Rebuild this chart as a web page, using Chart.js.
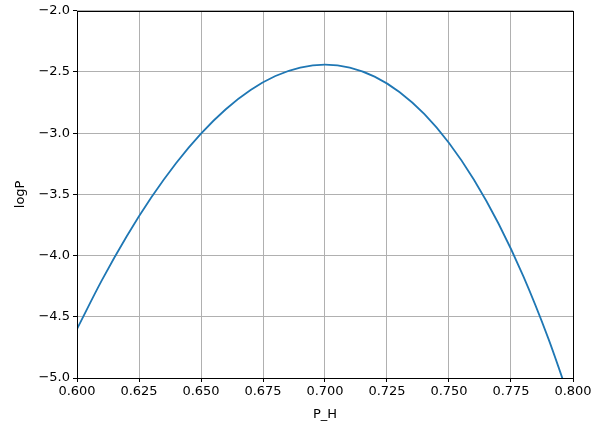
<!DOCTYPE html>
<html>
<head>
<meta charset="utf-8">
<script src="https://cdn.jsdelivr.net/npm/chart.js@4.4.0/dist/chart.umd.min.js"></script>
<style>
  html, body { margin: 0; padding: 0; background: #fff; }
  #wrap { width: 594px; height: 422px; }
</style>
</head>
<body>
<div id="wrap"><canvas id="c" width="594" height="422"></canvas></div>
<script>
// valores
const pH = [0.60, 0.61, 0.62, 0.63, 0.64, 0.65, 0.66, 0.67, 0.68, 0.69, 0.70,
            0.71, 0.72, 0.73, 0.74, 0.75, 0.76, 0.77, 0.78, 0.79, 0.795, 0.80];
const logP = [-4.600, -4.203, -3.844, -3.524, -3.243, -3.003, -2.804, -2.647, -2.533, -2.464, -2.440,
              -2.464, -2.538, -2.663, -2.843, -3.080, -3.378, -3.740, -4.170, -4.674, -4.960, -5.257];
const xTicks = [0.600, 0.625, 0.650, 0.675, 0.700, 0.725, 0.750, 0.775, 0.800];
const yTicks = [-2.0, -2.5, -3.0, -3.5, -4.0, -4.5, -5.0];

const FONT = { family: "'DejaVu Sans', sans-serif", size: 13 };

// moldura completa em volta da área do gráfico
const frame = {
  id: 'frame',
  afterDraw(chart) {
    const a = chart.chartArea, ctx = chart.ctx;
    ctx.save();
    ctx.strokeStyle = '#000';
    ctx.lineWidth = 1;
    ctx.strokeRect(Math.round(a.left) + 0.5, Math.round(a.top) + 0.5,
                   Math.round(a.right - a.left), Math.round(a.bottom - a.top));
    ctx.restore();
  }
};

new Chart(document.getElementById('c'), {
  type: 'line',
  data: {
    datasets: [{
      data: pH.map((x, i) => ({ x: x, y: logP[i] })),
      borderColor: '#1f77b4',
      borderWidth: 1.8,
      pointRadius: 0,
      cubicInterpolationMode: 'monotone',
      fill: false
    }]
  },
  options: {
    responsive: false,
    animation: false,
    layout: { padding: { left: 13, right: 21, top: 7, bottom: 0 } },
    plugins: { legend: { display: false }, tooltip: { enabled: false } },
    scales: {
      x: {
        type: 'linear',
        min: 0.6, max: 0.8,
        afterBuildTicks: s => { s.ticks = xTicks.map(v => ({ value: v })); },
        afterFit: s => { s.height = 44; },
        ticks: {
          color: '#000', font: FONT, padding: 2, maxRotation: 0,
          callback: v => v.toFixed(3)
        },
        grid: { color: '#b0b0b0', lineWidth: 1, tickLength: 4, tickColor: '#000' },
        border: { display: false },
        title: { display: true, text: 'P_H', color: '#000', font: FONT, padding: { top: 1, bottom: 0 } }
      },
      y: {
        min: -5, max: -2,
        afterBuildTicks: s => { s.ticks = yTicks.map(v => ({ value: v })); },
        afterFit: s => { s.width = 64; },
        ticks: {
          color: '#000', font: FONT, padding: 3,
          callback: v => v.toFixed(1).replace('-', '\u2212')
        },
        grid: { color: '#b0b0b0', lineWidth: 1, tickLength: 4, tickColor: '#000' },
        border: { display: false },
        title: { display: true, text: 'logP', color: '#000', font: FONT, padding: { top: 0, bottom: 4 } }
      }
    }
  },
  plugins: [frame]
});
</script>
</body>
</html>
